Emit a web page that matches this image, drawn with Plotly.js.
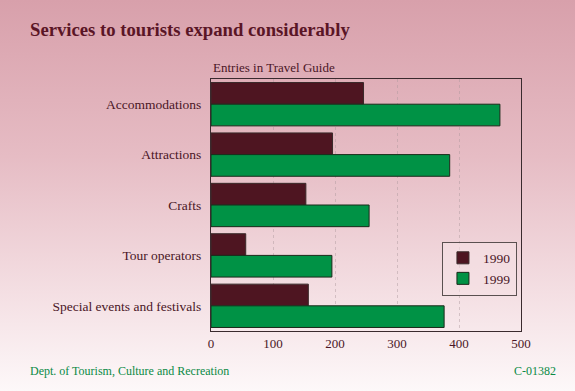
<!DOCTYPE html>
<html>
<head>
<meta charset="utf-8">
<script src="https://cdn.plot.ly/plotly-3.0.1.min.js"></script>
<style>
html,body{margin:0;padding:0;}
body{width:575px;height:391px;background:linear-gradient(to bottom,#d8a0ab 0%,#e6bcc4 40%,#f4dfe3 75%,#fdf8f9 100%);}
#chart{width:575px;height:391px;}
</style>
</head>
<body>
<div id="chart"></div>
<script>
const categories = ["Accommodations","Attractions","Crafts","Tour operators","Special events and festivals"];
const values1990 = [246, 196, 153, 56, 157];
const values1999 = [466, 385, 255, 195, 376];
const seriesNames = ["1990","1999"];
const tickVals = [0,100,200,300,400,500];

const serif = "Liberation Serif";
const textColor = "#4a1626";

const traces = [
  {type:"bar", orientation:"h", name:seriesNames[0], y:categories, x:values1990,
   marker:{color:"#4e1521", line:{color:"#3a2a2a", width:1}}},
  {type:"bar", orientation:"h", name:seriesNames[1], y:categories, x:values1999,
   marker:{color:"#009245", line:{color:"#1a2a1a", width:1}}}
];

const layout = {
  width:575, height:391,
  paper_bgcolor:"rgba(0,0,0,0)", plot_bgcolor:"rgba(0,0,0,0)",
  margin:{l:211, r:54, t:79, b:60},
  barmode:"group", bargap:0.14, bargroupgap:0,
  showlegend:true,
  font:{family:serif, color:textColor, size:13},
  xaxis:{range:[0,500], tickvals:tickVals, ticktext:tickVals.map(String),
    showgrid:true, gridcolor:"rgba(170,150,155,0.45)", griddash:"dot", gridwidth:1,
    zeroline:false, showline:true, linecolor:"#3a2a2e", linewidth:1, mirror:true,
    ticks:"", tickfont:{family:serif, size:13, color:textColor}, fixedrange:true},
  yaxis:{autorange:"reversed", showline:true, linecolor:"#3a2a2e", linewidth:1, mirror:true,
    ticks:"", showgrid:false, tickfont:{family:serif, size:13.5, color:textColor}, ticklabelstandoff:6},
  legend:{x:0.745, y:0.355, xanchor:"left", yanchor:"top",
    bgcolor:"rgba(245,225,229,0.6)", bordercolor:"#5a5050", borderwidth:1,
    font:{family:serif, size:13.5, color:textColor}, itemwidth:30, tracegroupgap:0},
  annotations:[
    {text:"<b>Services to tourists expand considerably</b>", xref:"paper", yref:"paper",
     x:(29-211)/309, y:1+50/252, xanchor:"left", yanchor:"middle", showarrow:false,
     font:{family:serif, size:18.7, color:"#5a1526"}},
    {text:"Entries in Travel Guide", xref:"paper", yref:"paper", x:0, y:1+11/252,
     xanchor:"left", yanchor:"middle", showarrow:false, font:{family:serif, size:13, color:textColor}},
    {text:"Dept. of Tourism, Culture and Recreation", xref:"paper", yref:"paper",
     x:(29-211)/309, y:-40/252, xanchor:"left", yanchor:"middle", showarrow:false,
     font:{family:serif, size:12, color:"#0a8a45"}},
    {text:"C-01382", xref:"paper", yref:"paper", x:1+37/309, y:-40/252,
     xanchor:"right", yanchor:"middle", showarrow:false,
     font:{family:serif, size:12, color:"#0a8a45"}}
  ]
};

Plotly.newPlot("chart", traces, layout, {displayModeBar:false, staticPlot:true});
</script>
</body>
</html>
